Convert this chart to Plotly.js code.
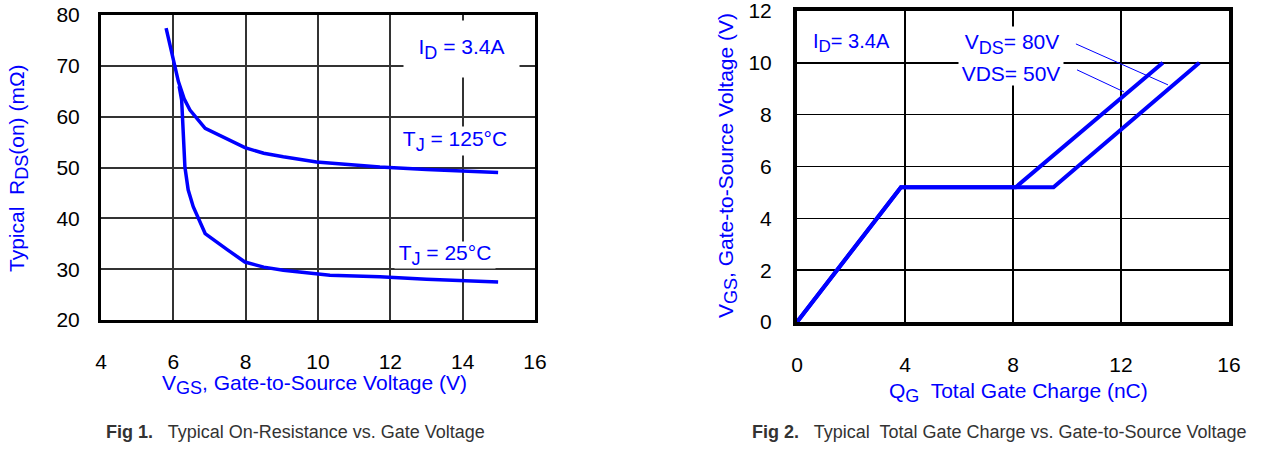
<!DOCTYPE html>
<html>
<head>
<meta charset="utf-8">
<script src="https://cdn.plot.ly/plotly-3.0.1.min.js"></script>
<style>html,body{margin:0;padding:0;background:#fff;}#chart{width:1269px;height:452px;}</style>
</head>
<body>
<div id="chart"></div>
<script>
// ---- Fig 1 data: Typical On-Resistance vs Gate Voltage ----
const vgs125 = [5.8, 6.03, 6.14, 6.3, 6.46, 6.88, 7.5, 7.98, 8.5, 9.04, 9.96, 10.88, 11.71, 13.0, 13.97, 14.98];
const rds125 = [77.4, 70.0, 66.9, 63.5, 61.3, 57.7, 55.6, 53.9, 52.8, 52.1, 51.1, 50.5, 50.1, 49.6, 49.3, 49.0];
const vgs25 = [6.16, 6.23, 6.32, 6.41, 6.55, 6.88, 7.5, 7.98, 8.5, 9.04, 10.33, 11.71, 13.0, 13.97, 14.98];
const rds25 = [66.0, 63.3, 50.1, 45.6, 42.3, 37.0, 33.8, 31.4, 30.4, 29.8, 28.8, 28.5, 28.0, 27.8, 27.5];

// ---- Fig 2 data: Gate charge ----
const qg50 = [0, 3.85, 8.1, 13.55];
const vg50 = [0, 5.2, 5.2, 10];
const qg80 = [0, 3.85, 9.5, 14.9];
const vg80 = [0, 5.2, 5.2, 10];

// tick labels / ranges
const fig1XTicks = [4, 6, 8, 10, 12, 14, 16];
const fig1YTicks = [20, 30, 40, 50, 60, 70, 80];
const fig2XTicks = [0, 4, 8, 12, 16];
const fig2YTicks = [0, 2, 4, 6, 8, 10, 12];

// leader lines (data coords of fig 2)
const lead80 = {x: [10.33, 13.74], y: [10.73, 9.15]};
const lead50 = {x: [10.37, 12.11], y: [9.73, 8.88]};

const W = 1269, H = 452;
const px = v => v / W;
const py = v => 1 - v / H;
const BLUE = '#0000ff';
const FONT = 'Liberation Sans, Arial, sans-serif';
const sub = (t, s) => '<sub><span style="font-size:' + s + 'px">' + t + '</span></sub>';

const traces = [
  {x: vgs125, y: rds125, xaxis: 'x', yaxis: 'y', mode: 'lines', line: {color: BLUE, width: 3.5}, hoverinfo: 'skip'},
  {x: vgs25, y: rds25, xaxis: 'x', yaxis: 'y', mode: 'lines', line: {color: BLUE, width: 3.5}, hoverinfo: 'skip'},
  {x: qg50, y: vg50, xaxis: 'x2', yaxis: 'y2', mode: 'lines', line: {color: BLUE, width: 4}, hoverinfo: 'skip'},
  {x: qg80, y: vg80, xaxis: 'x2', yaxis: 'y2', mode: 'lines', line: {color: BLUE, width: 4}, hoverinfo: 'skip'}
];

function axis(dom, range, ticks, anchor, grid, lw, gw, tl) {
  return {
    domain: dom, range: range, tickvals: ticks, ticktext: ticks.map(String),
    anchor: anchor, showgrid: true, gridcolor: grid, gridwidth: gw,
    showline: true, mirror: true, linecolor: '#000', linewidth: lw,
    zeroline: false, ticks: 'outside', ticklen: tl, tickcolor: 'rgba(0,0,0,0)',
    ticklabeloverflow: 'allow',
    tickfont: {family: FONT, size: 21, color: '#000'}, fixedrange: true
  };
}

const ann = [];
function label(text, x, y, size, opts) {
  ann.push(Object.assign({
    text: text, xref: 'paper', yref: 'paper', x: px(x), y: py(y),
    xanchor: 'center', yanchor: 'middle', showarrow: false,
    font: {family: FONT, size: size, color: BLUE}
  }, opts || {}));
}
// axis titles
label('Typical\u00a0 R' + sub('DS', 18) + '(on) (mΩ)', 18, 168, 21, {textangle: -90});
label('V' + sub('GS', 18) + ', Gate-to-Source Voltage (V)', 314, 384, 21);
label('Q' + sub('G', 18) + '\u00a0 Total Gate Charge (nC)', 1018, 392, 21);
label('V' + sub('GS', 18) + ', Gate-to-Source Voltage (V)', 727, 166, 21, {textangle: -90});
// in-plot labels fig 1
label('I' + sub('D', 18) + ' = 3.4A', 461, 49, 21, {bgcolor: '#fff', width: 115, height: 56, borderpad: 0});
label('T' + sub('J', 18) + ' = 125°C', 455, 141, 21, {bgcolor: '#fff', width: 112, height: 28, borderpad: 0});
label('T' + sub('J', 18) + ' = 25°C', 445, 255, 21, {bgcolor: '#fff', width: 100, height: 26, borderpad: 0});
// in-plot labels fig 2
label('I' + sub('D', 17) + '= 3.4A', 851, 43, 20);
label('V' + sub('DS', 18) + '= 80V', 1012, 44, 21, {bgcolor: '#fff', width: 104, height: 34, borderpad: 0});
label('VDS= 50V', 1011, 73, 21, {bgcolor: '#fff', width: 104, height: 24, borderpad: 0});
// captions
label('<b>Fig 1.</b>\u00a0\u00a0 Typical On-Resistance vs. Gate Voltage', 104, 432, 18, {xanchor: 'left', font: {family: FONT, size: 18, color: '#333'}});
label('<b>Fig 2.</b>\u00a0\u00a0 Typical\u00a0 Total Gate Charge vs. Gate-to-Source Voltage', 750, 432, 18, {xanchor: 'left', font: {family: FONT, size: 18, color: '#333'}});

const shapes = [
  {type: 'line', xref: 'x2', yref: 'y2', x0: lead80.x[0], y0: lead80.y[0], x1: lead80.x[1], y1: lead80.y[1], line: {color: BLUE, width: 1}},
  {type: 'line', xref: 'x2', yref: 'y2', x0: lead50.x[0], y0: lead50.y[0], x1: lead50.x[1], y1: lead50.y[1], line: {color: BLUE, width: 1}}
];

const layout = {
  width: W, height: H, margin: {l: 0, r: 0, t: 0, b: 0},
  paper_bgcolor: '#fff', plot_bgcolor: '#fff', showlegend: false,
  font: {family: FONT},
  xaxis: axis([px(101), px(535)], [4, 16], fig1XTicks, 'y', '#333', 3, 2, 21),
  yaxis: axis([py(320), py(15)], [20, 80], fig1YTicks, 'x', '#333', 3, 2, 14),
  xaxis2: axis([px(797), px(1229)], [0, 16], fig2XTicks, 'y2', '#000', 4, 1.5, 21),
  yaxis2: axis([py(322), py(11)], [0, 12], fig2YTicks, 'x2', '#000', 4, 1.5, 17),
  annotations: ann,
  shapes: shapes
};

Plotly.newPlot('chart', traces, layout, {staticPlot: true, displayModeBar: false});
</script>
</body>
</html>
